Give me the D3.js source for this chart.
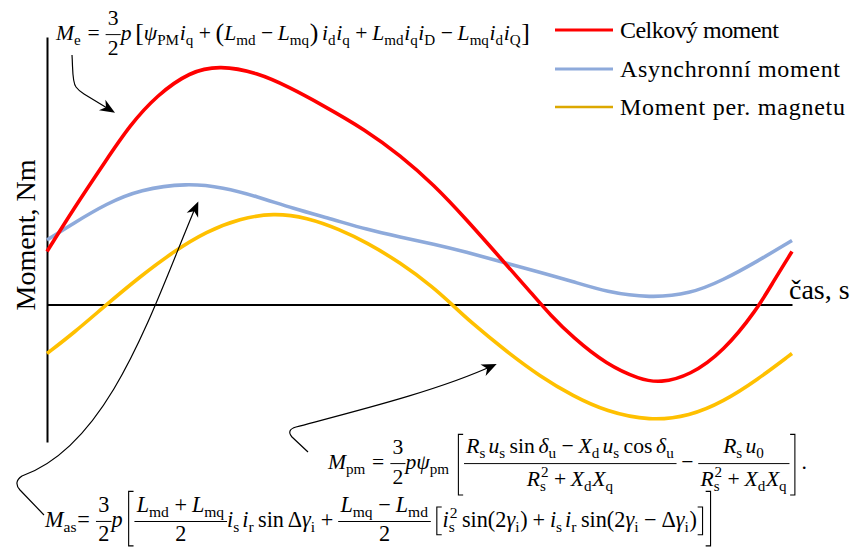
<!DOCTYPE html>
<html>
<head>
<meta charset="utf-8">
<script src="https://cdn.jsdelivr.net/npm/d3@7"></script>
<style>
  html, body { margin: 0; padding: 0; background: #fff; }
  svg { display: block; }
</style>
</head>
<body>
<svg id="chart" width="854" height="548"></svg>
<script>
// ---- data -------------------------------------------------------------
const seriesNames  = ["Celkový moment", "Asynchronní moment", "Moment per. magnetu"];
const seriesColors = ["#ff0000", "#8eaadb", "#ffc000"];
const legendColors = ["#ff0000", "#8eaadb", "#dca800"];

// total torque
const tTotal = [0, 0.35, 0.80, 1.11, 1.47, 1.92, 2.32, 2.82, 3.26, 3.66, 4.29, 4.74, 5.19,
                5.63, 6.08, 6.53, 6.75, 7.06, 7.51, 7.96, 8.23, 8.63, 9.08, 9.53, 9.75, 10];
const mTotal = [0.53, 0.95, 1.45, 1.79, 2.09, 2.33, 2.39, 2.32, 2.17, 2.01, 1.74, 1.49, 1.20,
                0.85, 0.47, 0.09, -0.10, -0.33, -0.60, -0.75, -0.785, -0.71, -0.47, -0.05, 0.23, 0.53];

// asynchronous torque
const tAsync = [0, 0.35, 0.80, 1.25, 1.88, 2.37, 2.82, 3.30, 3.84, 4.29, 4.74, 5.19, 5.63,
                6.08, 6.56, 7.06, 7.51, 8.09, 8.63, 9.08, 9.53, 10];
const mAsync = [0.645, 0.81, 1.01, 1.15, 1.215, 1.17, 1.08, 0.96, 0.85, 0.75, 0.675, 0.605, 0.525,
                0.43, 0.335, 0.23, 0.125, 0.065, 0.105, 0.245, 0.43, 0.64];

// permanent-magnet torque
const tPm = [0, 0.35, 0.80, 1.25, 1.70, 2.14, 2.59, 3.04, 3.49, 3.93, 4.29, 4.74, 5.19, 5.45,
             5.68, 6.15, 6.62, 7.06, 7.51, 8.09, 8.63, 9.08, 9.53, 10];
const mPm = [-0.49, -0.29, 0.00, 0.28, 0.53, 0.73, 0.86, 0.915, 0.87, 0.75, 0.62, 0.42, 0.17, -0.01,
             -0.17, -0.46, -0.72, -0.915, -1.07, -1.165, -1.115, -0.97, -0.755, -0.49];

const yLabel = "Moment, Nm";
const xLabel = "čas, s";

// ---- setup --------------------------------------------------------------
const svg = d3.select("#chart");
const TEXT_FONT = "'Liberation Serif','Times New Roman',serif";

const x = d3.scaleLinear().domain([0, 10]).range([47, 792]);
const y = d3.scaleLinear().domain([-1.375, 2.675]).range([442, 37]);

// axes: plain lines, no ticks
svg.append("g").attr("transform", `translate(${x(0)},0)`)
  .call(d3.axisLeft(y).tickValues([]).tickSizeOuter(0));
svg.append("g").attr("transform", `translate(0,${y(0)})`)
  .call(d3.axisBottom(x).tickValues([]).tickSizeOuter(0));
svg.selectAll(".domain").attr("stroke", "#000").attr("stroke-width", 2);

// ---- curves ---------------------------------------------------------------
const series = [
  { t: tAsync, m: mAsync, c: seriesColors[1] },
  { t: tPm,    m: mPm,    c: seriesColors[2] },
  { t: tTotal, m: mTotal, c: seriesColors[0] }
];
const line = d3.line().x(d => x(d[0])).y(d => y(d[1])).curve(d3.curveBasis);
svg.append("g").selectAll("path").data(series).join("path")
  .attr("d", s => line(s.t.map((t, i) => [t, s.m[i]])))
  .attr("fill", "none")
  .attr("stroke", s => s.c)
  .attr("stroke-width", 3.6)
  .attr("stroke-linecap", "butt");

// ---- axis labels ---------------------------------------------------------------
svg.append("text")
  .attr("transform", "translate(35,235) rotate(-90)")
  .attr("text-anchor", "middle")
  .attr("font-family", TEXT_FONT).attr("font-size", 28)
  .text(yLabel);
svg.append("text")
  .attr("x", 789).attr("y", 299)
  .attr("font-family", TEXT_FONT).attr("font-size", 28)
  .text(xLabel);

// ---- legend ------------------------------------------------------------------
const legendWidths = [159, 220, 225];
const legend = svg.append("g").selectAll("g").data(seriesNames).join("g")
  .attr("transform", (d, i) => `translate(0,${[30, 69, 107][i]})`);
legend.append("line")
  .attr("x1", 555).attr("x2", 613).attr("y1", 0).attr("y2", 0)
  .attr("stroke", (d, i) => legendColors[i])
  .attr("stroke-width", (d, i) => i === 2 ? 2.6 : 3.2);
legend.append("text")
  .attr("x", 620).attr("y", 7.5)
  .attr("font-family", TEXT_FONT).attr("font-size", 24)
  .attr("textLength", (d, i) => legendWidths[i])
  .attr("lengthAdjust", "spacing")
  .text(d => d);

// ---- tiny math typesetter ------------------------------------------------------
const txt = (s, o = {}) => Object.assign({ k: "t", s }, o);
const V = s => txt(s, { it: true });
const R = s => txt(s);
const SP = w => ({ k: "sp", w });
const S = (base, sub, sup) => ({ k: "ss", base: [base].flat(9), sub, sup });
const OP = s => [SP(0.22), R(s), SP(0.22)];
const REL = s => [SP(0.28), R(s), SP(0.28)];
const FR = (num, den, o = {}) => Object.assign({ k: "fr", num: num.flat(9), den: den.flat(9) }, o);
const BR = (ch, top, bot) => ({ k: "br", ch, top, bot });

function render(g, atoms, x0, fs) {
  let cx = x0;
  for (const a of atoms) cx += renderAtom(g, a, cx, fs);
  return cx - x0;
}
function renderAtom(g, a, x0, fs) {
  if (a.k === "sp") return a.w * fs;
  if (a.k === "t") {
    const el = g.append("text")
      .attr("x", x0).attr("y", (a.dy || 0) * fs)
      .attr("font-size", (a.sz || 1) * fs)
      .attr("font-style", a.it ? "italic" : null)
      .text(a.s);
    return el.node().getComputedTextLength();
  }
  if (a.k === "ss") {
    const wb = render(g, a.base, x0, fs);
    // sub- and superscript share one text element, each in its own tspan
    const el = g.append("text").attr("font-size", 0.7 * fs);
    let w = 0;
    if (a.sub) {
      const ts = el.append("tspan").attr("x", x0 + wb).attr("y", 0.22 * fs).text(a.sub);
      w = Math.max(w, ts.node().getComputedTextLength());
    }
    if (a.sup) {
      const ts = el.append("tspan").attr("x", x0 + wb + 0.04 * fs).attr("y", -0.42 * fs).text(a.sup);
      w = Math.max(w, ts.node().getComputedTextLength() + 0.04 * fs);
    }
    return wb + w + 0.03 * fs;
  }
  if (a.k === "fr") {
    const gn = g.append("g"), gd = g.append("g");
    const wn = render(gn, a.num, 0, fs), wd = render(gd, a.den, 0, fs);
    const pad = (a.pad ?? 0.1) * fs;
    const W = Math.max(wn, wd) + 2 * pad;
    gn.attr("transform", `translate(${x0 + (W - wn) / 2},${-(a.nu ?? 0.68) * fs})`);
    gd.attr("transform", `translate(${x0 + (W - wd) / 2},${(a.dn ?? 0.69) * fs})`);
    g.append("line")
      .attr("x1", x0).attr("x2", x0 + W)
      .attr("y1", -0.25 * fs).attr("y2", -0.25 * fs)
      .attr("stroke", "#000").attr("stroke-width", 0.045 * fs);
    return W;
  }
  if (a.k === "br") {
    const top = -a.top * fs, bot = a.bot * fs;
    const d = a.ch === "["
      ? `M${x0 + 0.32 * fs},${top}H${x0 + 0.1 * fs}V${bot}H${x0 + 0.32 * fs}`
      : `M${x0 + 0.03 * fs},${top}H${x0 + 0.25 * fs}V${bot}H${x0 + 0.03 * fs}`;
    g.append("path").attr("d", d).attr("fill", "none")
      .attr("stroke", "#000").attr("stroke-width", 0.05 * fs);
    return 0.36 * fs;
  }
  return 0;
}
function formula(atoms, { left, baseline, width, fs = 20 }) {
  const g = svg.append("g").attr("font-family", TEXT_FONT).attr("fill", "#000");
  const w = render(g, atoms.flat(9), 0, fs);
  const s = width / w;
  g.attr("transform", `translate(${left},${baseline}) scale(${s})`);
}

const threeHalves = FR([R("3")], [R("2")]);
const threeHalvesLow = FR([R("3")], [R("2")], { nu: 0.66, dn: 0.64 });
const lb = txt("[", { sz: 1.2, dy: 0.06 }), rb = txt("]", { sz: 1.2, dy: 0.06 });
const lp = txt("(", { sz: 1.2, dy: 0.06 }), rp = txt(")", { sz: 1.2, dy: 0.06 });

// electromagnetic torque
formula([
  S(V("M"), "e"), REL("="), threeHalves, V("p"), SP(0.17), lb,
  S(V("ψ"), "PM"), S(V("i"), "q"), OP("+"), lp, S(V("L"), "md"), OP("−"), S(V("L"), "mq"), rp, SP(0.17),
  S(V("i"), "d"), S(V("i"), "q"), OP("+"), S(V("L"), "md"), S(V("i"), "q"), S(V("i"), "D"),
  OP("−"), S(V("L"), "mq"), S(V("i"), "d"), S(V("i"), "Q"), rb
], { left: 56, baseline: 40, width: 474 });

// permanent-magnet torque
const denPm = [S(V("R"), "s", "2"), OP("+"), S(V("X"), "d"), S(V("X"), "q")];
formula([
  S(V("M"), "pm"), REL("="), threeHalves, V("p"), S(V("ψ"), "pm"), SP(0.3), BR("[", 1.6, 1.2),
  FR([S(V("R"), "s"), SP(0.12), S(V("u"), "s"), SP(0.17), R("sin"), SP(0.17), S(V("δ"), "u"),
      OP("−"), S(V("X"), "d"), SP(0.12), S(V("u"), "s"), SP(0.17), R("cos"), SP(0.17), S(V("δ"), "u")],
     denPm, { nu: 0.72, dn: 0.8 }),
  OP("−"),
  FR([S(V("R"), "s"), SP(0.12), S(V("u"), "0")], denPm, { nu: 0.72, dn: 0.8 }),
  BR("]", 1.6, 1.2), SP(0.2), R(".")
], { left: 328, baseline: 469, width: 479 });

// asynchronous torque
formula([
  S(V("M"), "as"), R("="), SP(0.28), threeHalvesLow, V("p"), SP(0.17), BR("[", 1.6, 0.85),
  FR([S(V("L"), "md"), OP("+"), S(V("L"), "mq")], [R("2")], { nu: 0.66, dn: 0.64 }),
  S(V("i"), "s"), SP(0.1), S(V("i"), "r"), SP(0.17), R("sin"), SP(0.17), R("Δ"), S(V("γ"), "i"),
  OP("+"),
  FR([S(V("L"), "mq"), OP("−"), S(V("L"), "md")], [R("2")], { nu: 0.66, dn: 0.64 }), SP(0.17),
  BR("[", 0.9, 0.35),
  S(V("i"), "s", "2"), SP(0.17), R("sin"), R("("), R("2"), S(V("γ"), "i"), R(")"),
  OP("+"), S(V("i"), "s"), SP(0.1), S(V("i"), "r"), SP(0.17), R("sin"), R("("), R("2"), S(V("γ"), "i"),
  OP("−"), R("Δ"), S(V("γ"), "i"), R(")"),
  BR("]", 0.9, 0.35), BR("]", 1.6, 0.85)
], { left: 45, baseline: 527, width: 668 });

// ---- annotation arrows -----------------------------------------------------------
const annot = svg.append("g");
function arrow(d, tip, from) {
  annot.append("path").attr("d", d).attr("fill", "none")
    .attr("stroke", "#000").attr("stroke-width", 1.2);
  const dx = tip[0] - from[0], dy = tip[1] - from[1], L = Math.hypot(dx, dy);
  const ux = dx / L, uy = dy / L, nx = -uy, ny = ux;
  const len = 15, half = 6.2, inset = 4.5;
  const pts = [
    tip,
    [tip[0] - len * ux + half * nx, tip[1] - len * uy + half * ny],
    [tip[0] - (len - inset) * ux, tip[1] - (len - inset) * uy],
    [tip[0] - len * ux - half * nx, tip[1] - len * uy - half * ny]
  ];
  annot.append("path").attr("d", "M" + pts.join("L") + "Z").attr("fill", "#000");
}
arrow("M72,55 C73,70 72,82 76,87 Q79,91 84,94 L112,111", [115, 112.7], [84, 94]);
arrow("M44,515 L20,490 Q13,482 22,476 C110,445 152,310 196,206", [198.3, 201.5], [152, 310]);
arrow("M308,452 L292,437 Q286,430 296,427 C360,410 440,390 493,365.5", [496.7, 364], [440, 390]);
</script>
</body>
</html>
